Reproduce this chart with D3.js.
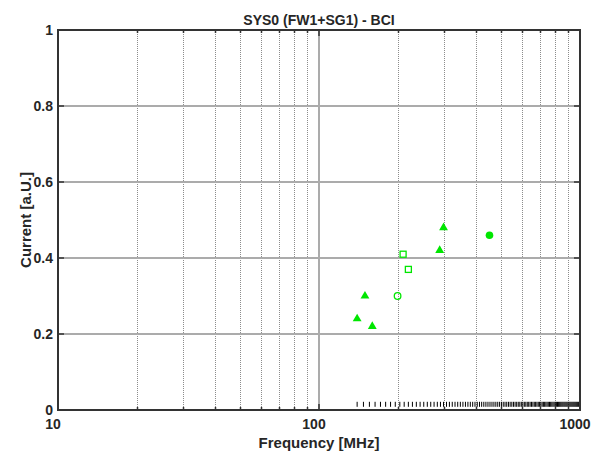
<!DOCTYPE html>
<html>
<head>
<meta charset="utf-8">
<script src="https://cdn.jsdelivr.net/npm/d3@7"></script>
<style>
  body { margin: 0; background: #fff; }
  text { font-family: Arial, "Liberation Sans", sans-serif; font-weight: bold; fill: #262626; }
</style>
</head>
<body>
<svg id="chart" width="608" height="453"></svg>
<script>
// Data
var triFreq = [140, 150, 160, 290, 300];
var triVal = [0.24, 0.30, 0.22, 0.42, 0.48];
var sqFreq = [210, 220];
var sqVal = [0.41, 0.37];
var openCircFreq = [200];
var openCircVal = [0.30];
var fillCircFreq = [450];
var fillCircVal = [0.46];
// tested frequencies, shown as small marks near zero
var stepFreq = [140, 148, 156, 164, 172, 180, 188, 196, 204, 212, 220, 228, 236, 244, 252, 260,
    268, 276, 284, 292, 300, 308, 316, 324, 332, 340, 348, 356, 364, 372, 380, 388, 396, 404,
    412, 420, 428, 436, 444, 452, 460, 468, 476, 484, 492, 500, 508, 516, 524, 532, 540, 548,
    556, 564, 572, 580, 588, 596, 604, 612, 620, 628, 636, 644, 652, 660, 668, 676, 684, 692,
    700, 708, 716, 724, 732, 740, 748, 756, 764, 772, 780, 788, 796, 804, 812, 820, 828, 836,
    844, 852, 860, 868, 876, 884, 892, 900, 908, 916, 924, 932, 940, 948, 956, 964, 972, 980,
    988, 996];
var stepVal = 0.015;

var xMajor = [10, 100, 1000];
var xMinor = [20, 30, 40, 50, 60, 70, 80, 90, 200, 300, 400, 500, 600, 700, 800, 900];
var yTicks = [0, 0.2, 0.4, 0.6, 0.8, 1];
var yTickLabels = ["0", "0.2", "0.4", "0.6", "0.8", "1"];

var titleText = "SYS0 (FW1+SG1) - BCI";
var xLabel = "Frequency [MHz]";
var yLabel = "Current [a.U.]";

var green = "#00e600";

// Layout
var svg = d3.select("#chart");
var plotLeft = 58, plotRight = 580, plotTop = 30, plotBottom = 410;

var x = d3.scaleLog().domain([10, 1000]).range([plotLeft, plotRight]);
var y = d3.scaleLinear().domain([0, 1]).range([plotBottom, plotTop]);

function px(v) { return Math.round(v) + 0.5; }

svg.append("rect").attr("width", 608).attr("height", 453).attr("fill", "#fff");

// Gridlines
var grid = svg.append("g");
grid.selectAll("line.minor")
    .data(xMinor)
    .enter().append("line")
        .attr("class", "minor")
        .attr("x1", d => px(x(d))).attr("x2", d => px(x(d)))
        .attr("y1", plotTop).attr("y2", plotBottom)
        .attr("stroke", "#8c8c8c")
        .attr("stroke-width", 1)
        .attr("stroke-dasharray", "1,1");

grid.selectAll("line.ymaj")
    .data(yTicks.slice(1, -1))
    .enter().append("line")
        .attr("class", "ymaj")
        .attr("x1", plotLeft).attr("x2", plotRight)
        .attr("y1", d => y(d)).attr("y2", d => y(d))
        .attr("stroke", "#ababab")
        .attr("stroke-width", 2);

grid.selectAll("line.xmaj")
    .data(xMajor.slice(1, -1))
    .enter().append("line")
        .attr("class", "xmaj")
        .attr("x1", d => x(d)).attr("x2", d => x(d))
        .attr("y1", plotTop).attr("y2", plotBottom)
        .attr("stroke", "#ababab")
        .attr("stroke-width", 2);

// Tick marks (inside, on all four sides)
var ticks = svg.append("g").attr("stroke", "#333").attr("stroke-width", 1.5);
xMajor.forEach(function(d) {
    ticks.append("line").attr("x1", x(d)).attr("x2", x(d)).attr("y1", plotBottom).attr("y2", plotBottom - 6);
    ticks.append("line").attr("x1", x(d)).attr("x2", x(d)).attr("y1", plotTop).attr("y2", plotTop + 6);
});
xMinor.forEach(function(d) {
    ticks.append("line").attr("x1", px(x(d))).attr("x2", px(x(d))).attr("y1", plotBottom).attr("y2", plotBottom - 3);
    ticks.append("line").attr("x1", px(x(d))).attr("x2", px(x(d))).attr("y1", plotTop).attr("y2", plotTop + 3);
});
yTicks.forEach(function(d) {
    ticks.append("line").attr("x1", plotLeft).attr("x2", plotLeft + 6).attr("y1", y(d)).attr("y2", y(d));
    ticks.append("line").attr("x1", plotRight).attr("x2", plotRight - 6).attr("y1", y(d)).attr("y2", y(d));
});

// Step marks along the bottom
svg.append("g").selectAll("line")
    .data(stepFreq)
    .enter().append("line")
        .attr("x1", d => x(d)).attr("x2", d => x(d))
        .attr("y1", y(stepVal) - 2.5).attr("y2", y(stepVal) + 2.5)
        .attr("stroke", "#000")
        .attr("stroke-width", 1);

// Frame
svg.append("rect")
    .attr("x", plotLeft).attr("y", plotTop)
    .attr("width", plotRight - plotLeft).attr("height", plotBottom - plotTop)
    .attr("fill", "none")
    .attr("stroke", "#333")
    .attr("stroke-width", 2);

// Markers
var triangle = d3.symbol().type(d3.symbolTriangle).size(34);
svg.append("g").selectAll("path")
    .data(triFreq)
    .enter().append("path")
        .attr("d", triangle)
        .attr("transform", (d, i) => "translate(" + x(d) + "," + y(triVal[i]) + ")")
        .attr("fill", green);

svg.append("g").selectAll("rect")
    .data(sqFreq)
    .enter().append("rect")
        .attr("x", d => x(d) - 3).attr("y", (d, i) => y(sqVal[i]) - 3)
        .attr("width", 6).attr("height", 6)
        .attr("fill", "none")
        .attr("stroke", green)
        .attr("stroke-width", 1.3);

svg.append("g").selectAll("circle")
    .data(openCircFreq)
    .enter().append("circle")
        .attr("cx", d => x(d)).attr("cy", (d, i) => y(openCircVal[i]))
        .attr("r", 3.3)
        .attr("fill", "none")
        .attr("stroke", green)
        .attr("stroke-width", 1.3);

svg.append("g").selectAll("circle.fill")
    .data(fillCircFreq)
    .enter().append("circle")
        .attr("class", "fill")
        .attr("cx", d => x(d)).attr("cy", (d, i) => y(fillCircVal[i]))
        .attr("r", 3.8)
        .attr("fill", green);

// Tick labels
svg.append("g").selectAll("text")
    .data(yTicks)
    .enter().append("text")
        .attr("x", plotLeft - 5)
        .attr("y", d => y(d) + 5)
        .attr("text-anchor", "end")
        .style("font-size", "14px")
        .text((d, i) => yTickLabels[i]);

svg.append("g").selectAll("text")
    .data(xMajor)
    .enter().append("text")
        .attr("x", d => x(d) - 5)
        .attr("y", 429)
        .attr("text-anchor", "middle")
        .style("font-size", "14px")
        .text(d => d);

// Title and axis labels
svg.append("text")
    .attr("x", (plotLeft + plotRight) / 2)
    .attr("y", 25)
    .attr("text-anchor", "middle")
    .style("font-size", "14px")
    .text(titleText);

svg.append("text")
    .attr("x", (plotLeft + plotRight) / 2)
    .attr("y", 448)
    .attr("text-anchor", "middle")
    .style("font-size", "15px")
    .text(xLabel);

svg.append("text")
    .attr("transform", "translate(31," + (plotTop + plotBottom) / 2 + ") rotate(-90)")
    .attr("text-anchor", "middle")
    .style("font-size", "15px")
    .text(yLabel);
</script>
</body>
</html>
